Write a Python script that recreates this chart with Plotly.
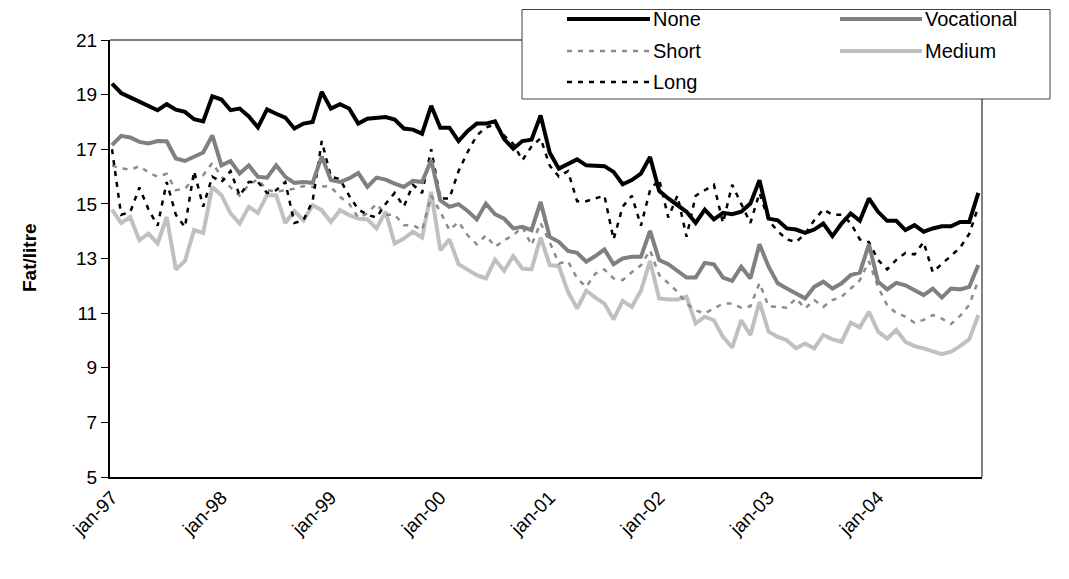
import plotly.graph_objects as go

# ---------------- data ----------------
MONTH_ABBR = ["jan", "feb", "mar", "apr", "maj", "jun", "jul", "aug", "sep", "okt", "nov", "dec"]
YEARS = ["97", "98", "99", "00", "01", "02", "03", "04"]
CATEGORIES = [f"{m}-{y}" for y in YEARS for m in MONTH_ABBR]
TICK_LABELS = ["jan-97", "jan-98", "jan-99", "jan-00", "jan-01", "jan-02", "jan-03", "jan-04"]

NONE = [19.4, 19.06, 18.9, 18.73, 18.6, 18.43, 18.65, 18.45, 18.37, 18.1, 18.02, 18.94,
        18.82, 18.43, 18.49, 18.2, 17.8, 18.46, 18.3, 18.16, 17.76, 17.94, 18.0, 19.1,
        18.49, 18.65, 18.49, 17.94, 18.12, 18.15, 18.18, 18.09, 17.76, 17.72, 17.57, 18.59,
        17.79, 17.79, 17.3, 17.67, 17.94, 17.94, 18.02, 17.37, 17.02, 17.3, 17.35, 18.24,
        16.87, 16.29, 16.48, 16.63, 16.41, 16.39, 16.38, 16.17, 15.72, 15.87, 16.11, 16.72,
        15.48, 15.2, 14.95, 14.71, 14.3, 14.79, 14.43, 14.67, 14.62, 14.71, 15.01, 15.87,
        14.46, 14.4, 14.1, 14.06, 13.94, 14.06, 14.28, 13.82, 14.28, 14.65, 14.38, 15.2,
        14.71, 14.38, 14.38, 14.04, 14.22, 13.98, 14.1, 14.18, 14.18, 14.34, 14.34, 15.4]

VOCATIONAL = [17.15, 17.49, 17.43, 17.27, 17.21, 17.3, 17.29, 16.66, 16.57, 16.72, 16.88, 17.51,
              16.41, 16.57, 16.11, 16.41, 15.99, 15.96, 16.41, 15.99, 15.77, 15.8, 15.77, 16.74,
              15.87, 15.8, 15.93, 16.13, 15.62, 15.96, 15.89, 15.74, 15.62, 15.84, 15.8, 16.6,
              15.13, 14.89, 14.99, 14.74, 14.43, 15.01, 14.62, 14.46, 14.1, 14.16, 14.04, 15.07,
              13.79, 13.61, 13.28, 13.21, 12.88, 13.09, 13.33, 12.79, 13.0, 13.06, 13.06, 14.01,
              12.94, 12.79, 12.55, 12.3, 12.3, 12.84, 12.79, 12.3, 12.18, 12.7, 12.27, 13.52,
              12.7, 12.09, 11.9, 11.72, 11.54, 11.96, 12.15, 11.9, 12.09, 12.39, 12.48, 13.52,
              12.15, 11.87, 12.11, 12.02, 11.84, 11.66, 11.9, 11.57, 11.9, 11.87, 11.96, 12.76]

SHORT = [16.4, 16.3, 16.25, 16.38, 16.15, 16.0, 16.1, 15.5, 15.55, 15.95, 16.05, 16.5,
         16.0, 15.6, 15.3, 15.7, 15.9, 15.5, 15.45, 15.5, 15.55, 15.65, 15.62, 15.65,
         15.62, 15.26, 15.0, 14.5, 14.65, 15.0, 14.6, 14.6, 14.22, 14.22, 14.04, 15.3,
         14.71, 14.04, 14.34, 13.85, 13.52, 13.85, 13.43, 13.67, 13.85, 14.16, 13.49, 14.3,
         13.6, 12.82, 12.9, 12.27, 11.96, 12.45, 12.6, 12.27, 12.21, 12.5, 12.75, 13.3,
         12.4, 12.1, 11.78, 11.35, 11.1, 10.99, 11.17, 11.35, 11.35, 11.2, 11.25, 12.1,
         11.25, 11.23, 11.2, 11.54, 11.17, 11.48, 11.23, 11.48, 11.6, 11.9, 12.2, 12.9,
         11.96, 11.29, 11.0, 10.87, 10.65, 10.75, 10.93, 10.8, 10.6, 10.9, 11.3, 12.2]

MEDIUM = [14.79, 14.3, 14.52, 13.67, 13.91, 13.55, 14.52, 12.6, 12.91, 14.04, 13.94, 15.62,
          15.32, 14.65, 14.28, 14.89, 14.67, 15.32, 15.32, 14.3, 14.74, 14.4, 14.95, 14.77,
          14.34, 14.77, 14.59, 14.46, 14.43, 14.1, 14.71, 13.55, 13.73, 13.98, 13.77, 15.44,
          13.3, 13.7, 12.79, 12.57, 12.39, 12.27, 12.96, 12.55, 13.09, 12.63, 12.6, 13.77,
          12.76, 12.72, 11.78, 11.17, 11.82, 11.57, 11.35, 10.77, 11.45, 11.23, 11.82, 12.91,
          11.54, 11.5, 11.5, 11.6, 10.62, 10.87, 10.74, 10.13, 9.74, 10.74, 10.2, 11.41,
          10.32, 10.13, 10.01, 9.71, 9.89, 9.71, 10.2, 10.04, 9.95, 10.65, 10.48, 11.05,
          10.32, 10.07, 10.38, 9.95, 9.79, 9.71, 9.59, 9.5, 9.59, 9.79, 10.04, 10.93]

LONG = [17.0, 14.6, 14.7, 15.6, 14.8, 14.2, 15.8, 14.6, 14.15, 16.2, 14.9, 16.0,
        15.8, 16.2, 15.3, 15.8, 15.8, 15.4, 15.5, 15.8, 14.3, 14.4, 15.1, 17.3,
        16.0, 15.9, 15.3, 14.8, 14.6, 14.5, 15.0, 15.4, 14.9, 15.7, 15.4, 17.0,
        15.2, 15.2, 16.2, 16.9, 17.5, 17.8, 17.9, 17.5, 17.2, 16.6, 17.1, 17.4,
        16.4, 16.0, 16.2, 15.1, 15.1, 15.2, 15.3, 13.7, 14.9, 15.3, 14.2, 15.5,
        15.9, 14.5, 15.3, 13.8, 15.3, 15.5, 15.7, 14.3, 15.7, 15.0, 14.3, 15.4,
        14.4, 14.0, 13.7, 13.6, 13.9, 14.4, 14.8, 14.6, 14.6, 14.3, 13.7, 13.6,
        12.95, 12.6, 12.95, 13.2, 13.15, 13.6, 12.5, 12.8, 13.1, 13.4, 13.9, 14.9]

NAMES = ["None", "Vocational", "Short", "Medium", "Long"]
Y_TITLE = "Fat/litre"

# ---------------- styles ----------------
FONT = "Liberation Sans, Arial, sans-serif"
STYLES = {
    "None": dict(color="#000000", width=4, dash="solid"),
    "Vocational": dict(color="#808080", width=4, dash="solid"),
    "Short": dict(color="#8c8c8c", width=2.5, dash="5px,6px"),
    "Medium": dict(color="#c0c0c0", width=4, dash="solid"),
    "Long": dict(color="#000000", width=2.5, dash="5px,6px"),
}
SERIES = {"None": NONE, "Vocational": VOCATIONAL, "Short": SHORT, "Medium": MEDIUM, "Long": LONG}
DRAW_ORDER = ["Medium", "Short", "Long", "Vocational", "None"]

# page is rendered with an 8px body margin; compensate so page coords match
OFF = 8
PAGE_W, PAGE_H = 1069, 579
W, H = PAGE_W - OFF, PAGE_H - OFF
PL, PR, PT, PB = 110, 982, 40, 477  # plot area in page pixels
L, R, T, B = PL - OFF, PR - OFF, PT - OFF, PB - OFF


def px(x):
    return (x - PL) / (PR - PL)


def py(y):
    return (PB - y) / (PB - PT)


fig = go.Figure()
for name in DRAW_ORDER:
    s = STYLES[name]
    fig.add_trace(go.Scatter(
        x=CATEGORIES, y=SERIES[name], mode="lines", name=name,
        line=dict(color=s["color"], width=s["width"], dash=s["dash"]),
        showlegend=False,
    ))

shapes = []
# plot frame (top + right, grey)
shapes.append(dict(type="line", xref="paper", yref="paper", x0=0, x1=1, y0=1, y1=1,
                   line=dict(color="#808080", width=2)))
shapes.append(dict(type="line", xref="paper", yref="paper", x0=1, x1=1, y0=0, y1=1,
                   line=dict(color="#808080", width=2)))

# legend box
shapes.append(dict(type="rect", xref="paper", yref="paper",
                   x0=px(522), x1=px(1050), y0=py(99), y1=py(9.5),
                   fillcolor="white", line=dict(color="#404040", width=1), layer="above"))

annotations = []
legend_pos = {
    "None": (567, 650, 19),
    "Vocational": (840, 922, 19),
    "Short": (567, 650, 51),
    "Medium": (840, 922, 51),
    "Long": (567, 650, 82),
}
for name in NAMES:
    x0, x1, yy = legend_pos[name]
    s = STYLES[name]
    shapes.append(dict(type="line", xref="paper", yref="paper",
                       x0=px(x0), x1=px(x1), y0=py(yy), y1=py(yy), layer="above",
                       line=dict(color=s["color"], width=s["width"], dash=s["dash"])))
    annotations.append(dict(xref="paper", yref="paper", x=px(x1 + 1), y=py(yy),
                            text=name, showarrow=False, xanchor="left", yanchor="middle",
                            font=dict(family=FONT, size=20, color="black")))

annotations.append(dict(xref="paper", yref="paper", x=px(30), y=py(258),
                        text=f"<b>{Y_TITLE}</b>", textangle=-90, showarrow=False,
                        xanchor="center", yanchor="middle",
                        font=dict(family=FONT, size=19, color="black")))

fig.update_layout(
    width=W, height=H, autosize=False,
    margin=dict(l=L, r=W - R, t=T, b=H - B, pad=0, autoexpand=False),
    paper_bgcolor="white", plot_bgcolor="white",
    font=dict(family=FONT, size=19, color="black"),
    shapes=shapes, annotations=annotations,
    showlegend=False,
)
fig.update_xaxes(
    type="category", range=[-0.22, 95.4], automargin=False,
    tickmode="array", tickvals=[CATEGORIES[i] for i in range(0, 96, 12)], ticktext=TICK_LABELS,
    tickangle=-45, ticks="", showgrid=False, zeroline=False,
    showline=True, linecolor="#000000", linewidth=2,
    tickfont=dict(family=FONT, size=19, color="black"),
)
fig.update_yaxes(
    range=[5, 21], dtick=2, tick0=5, ticks="outside", ticklen=7, tickwidth=1, tickcolor="black",
    showgrid=False, zeroline=False, showline=True, linecolor="#000000", linewidth=2,
    automargin=False,
    tickfont=dict(family=FONT, size=19, color="black"),
)

fig.write_html("out.html")
